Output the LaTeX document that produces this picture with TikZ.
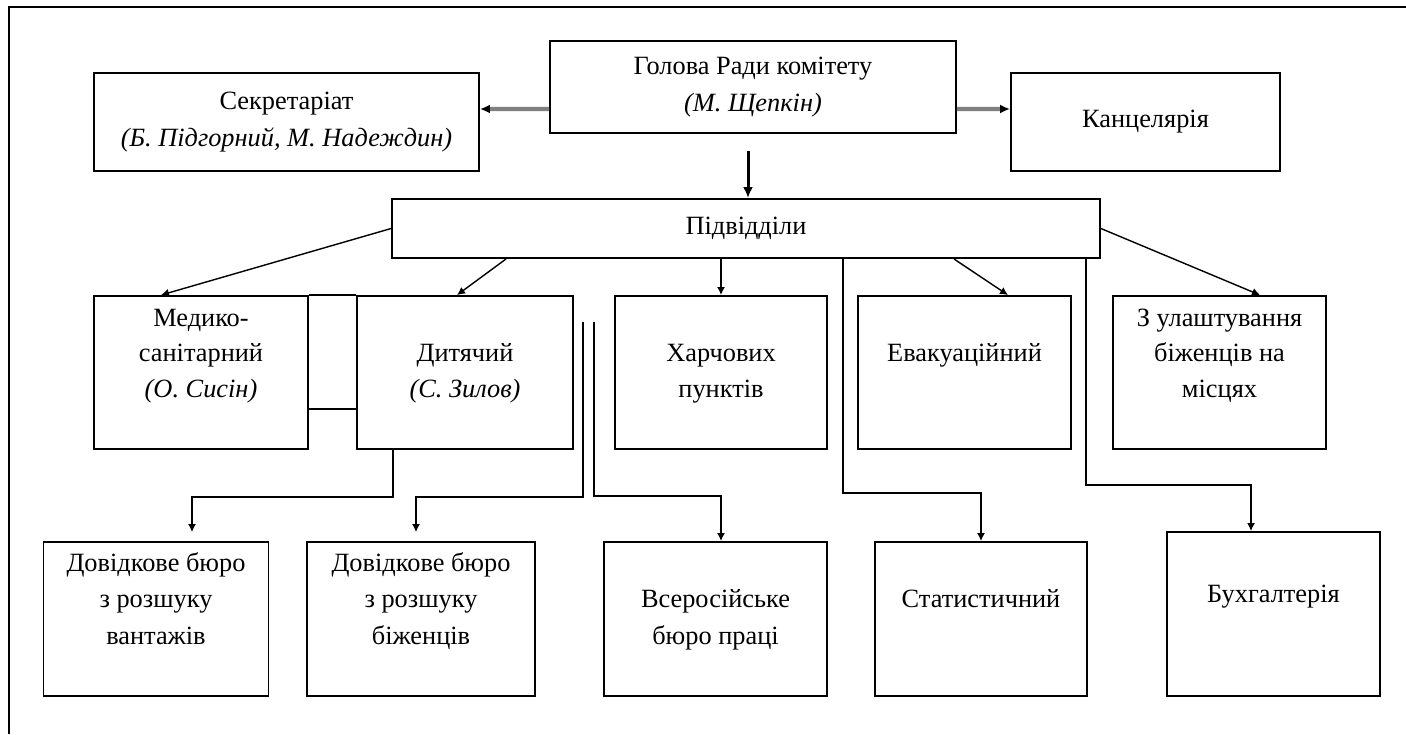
\documentclass[tikz,border=0pt]{standalone}
\usepackage{fontspec}
\setmainfont{Liberation Serif}
\usetikzlibrary{arrows.meta,calc}
\begin{document}
\begin{tikzpicture}[x=0.02cm,y=-0.02cm,
        unit/.style={draw,line width=1.1pt,align=center,inner sep=0pt,font=\fontsize{15}{21}\selectfont},
        midunit/.style={unit,minimum height=3.06cm,font=\fontsize{15}{20}\selectfont},
        lowunit/.style={unit,minimum height=3.08cm},
        arr/.style={line width=0.8pt,-{Latex[length=0.16cm,width=0.16cm]}},
        grayarr/.style={line width=2.3pt,gray,-{Latex[color=black,length=0.2cm,width=0.18cm]}},
        mainarr/.style={line width=1.7pt,-{Latex[length=0.22cm,width=0.2cm]}}]
        \useasboundingbox (0,0) rectangle (1406,734);
        \draw[line width=1.7pt] (9,734) -- (9,7) -- (1406,7);
        \node[unit,minimum width=8.12cm,minimum height=1.84cm] (golova) at (753,87) {Голова Ради комітету\\\textit{(М. Щепкін)}};
        \node[unit,minimum width=7.7cm,minimum height=1.96cm] (sekretariat) at (286.5,122) {Секретаріат\\\textit{(Б. Підгорний, М. Надеждин)}};
        \node[unit,minimum width=5.38cm,minimum height=1.96cm] (kantseliariia) at (1145.5,122) {Канцелярія};
        \node[unit,minimum width=14.16cm,minimum height=1.18cm] (pidviddily) at (746,228.5) {Підвідділи};
        \node[midunit,minimum width=4.28cm] (medyko) at (201,372.5) {\strut Медико-\\\strut санітарний\\\strut\textit{(О. Сисін)}\\\strut};
        \node[midunit,minimum width=4.32cm] (dytiachyi) at (465,372.5) {\strut\\\strut Дитячий\\\strut\textit{(С. Зилов)}\\\strut};
        \node[midunit,minimum width=4.24cm] (kharchovykh) at (721,372.5) {\strut\\\strut Харчових\\\strut пунктів\\\strut};
        \node[midunit,minimum width=4.26cm] (evakuatsiinyi) at (964.5,372.5) {\strut\\\strut Евакуаційний\\\strut\\\strut};
        \node[midunit,minimum width=4.26cm] (ulashtuvannia) at (1219.5,372.5) {\strut З улаштування\\\strut біженців на\\\strut місцях\\\strut};
        \node[lowunit,minimum width=4.5cm] (vantazhiv) at (156,619) {\strut Довідкове бюро\\\strut з розшуку\\\strut вантажів\\\strut};
        \node[lowunit,minimum width=4.56cm] (bizhentsiv) at (421,619) {\strut Довідкове бюро\\\strut з розшуку\\\strut біженців\\\strut};
        \node[lowunit,minimum width=4.46cm] (vserosiiske) at (715.5,619) {\strut\\\strut Всеросійське\\\strut бюро праці\\\strut};
        \node[lowunit,minimum width=4.24cm] (statystychnyi) at (981,619) {\strut\\\strut Статистичний\\\strut\\\strut};
        \node[unit,minimum width=4.26cm,minimum height=3.28cm] (bukhhalteriia) at (1273.5,614) {\strut\\\strut Бухгалтерія\\\strut\\\strut};
        \coordinate (lineA) at (583,322);
        \coordinate (lineB) at (594,322);
        \draw[grayarr] ([yshift=-0.44cm]golova.west) -- ([yshift=0.26cm]sekretariat.east);
        \draw[grayarr] ([yshift=-0.44cm]golova.east) -- ([yshift=0.26cm]kantseliariia.west);
        \draw[mainarr,shorten <=0.34cm] ([xshift=-0.1cm]golova.south) -- ([xshift=-0.1cm]golova.south |- pidviddily.north);
        \draw[arr] (pidviddily.west) -- ([xshift=-0.8cm]medyko.north);
        \draw[arr] ([xshift=-4.8cm]pidviddily.south) -- ([xshift=-0.16cm]dytiachyi.north);
        \draw[arr] (kharchovykh.north |- pidviddily.south) -- (kharchovykh.north);
        \draw[arr] ([xshift=4.16cm]pidviddily.south) -- ([xshift=0.87cm]evakuatsiinyi.north);
        \draw[arr] (pidviddily.east) -- ([xshift=0.81cm]ulashtuvannia.north);
        \draw[line width=0.8pt] (medyko.north east) -- (dytiachyi.north west);
        \draw[line width=0.8pt] ([yshift=0.82cm]medyko.south east) -- ([yshift=0.82cm]dytiachyi.south west);
        \draw[arr] ([xshift=1.94cm]pidviddily.south) |- ([yshift=0.96cm]statystychnyi.north) -- (statystychnyi.north);
        \draw[arr] ([xshift=6.8cm]pidviddily.south) |- ([xshift=-0.45cm,yshift=0.92cm]bukhhalteriia.north) -- ([xshift=-0.45cm]bukhhalteriia.north);
        \draw[arr,shorten >=0.18cm] ([xshift=-1.44cm]dytiachyi.south) |- ([xshift=0.72cm,yshift=0.88cm]vantazhiv.north) -- ([xshift=0.72cm]vantazhiv.north);
        \draw[arr,shorten >=0.18cm] (lineA) |- ([xshift=-0.1cm,yshift=0.88cm]bizhentsiv.north) -- ([xshift=-0.1cm]bizhentsiv.north);
        \draw[arr] (lineB) |- ([xshift=0.11cm,yshift=0.9cm]vserosiiske.north) -- ([xshift=0.11cm]vserosiiske.north);
\end{tikzpicture}
\end{document}
